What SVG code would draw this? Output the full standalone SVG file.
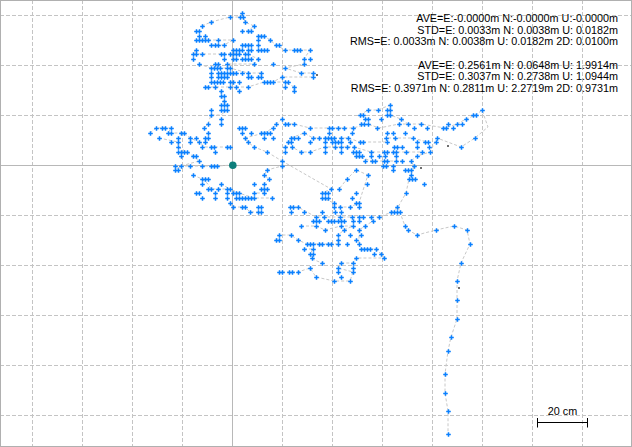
<svg xmlns="http://www.w3.org/2000/svg" width="632" height="447" viewBox="0 0 632 447">
<style>
.grid{stroke:#c4c4c4;stroke-width:1;stroke-dasharray:4 2;fill:none}
.axis{stroke:#b8b8b8;stroke-width:1;fill:none}
.tr{stroke:#c8c8c8;stroke-width:1;stroke-dasharray:3 2;fill:none}
.pt{stroke:#0a80ff;stroke-width:1.5;fill:none}
.gd{fill:#6e6e6e}
.lbl{font-family:"Liberation Sans",Arial,sans-serif;font-size:10.8px;fill:#000;text-anchor:end}
.sc{font-family:"Liberation Sans",Arial,sans-serif;font-size:10.8px;fill:#000;text-anchor:middle}
</style>
<defs>
<path id="p" class="pt" d="M-1.8 .5h4.6M.5-1.8v4.6"/>
</defs>
<rect x="0" y="0" width="632" height="447" fill="#fff"/>
<g id="grid">
<path class="grid" d="M32.5 0V447M82.5 0V447M132.5 0V447M182.5 0V447M282.5 0V447M332.5 0V447M382.5 0V447M432.5 0V447M482.5 0V447M532.5 0V447M582.5 0V447"/>
<path class="grid" d="M0 15.5H632M0 65.5H632M0 115.5H632M0 215.5H632M0 265.5H632M0 315.5H632M0 365.5H632M0 415.5H632"/>
<path class="axis" d="M232.5 0V447M0 165.5H632"/>
</g>
<rect x="0.5" y="0.5" width="631" height="446" fill="none" stroke="#b0b0b0"/>
<g id="connectors">
<polyline class="tr" points="202,26 211,22 230,17 240,17 242,13 245,22 254,26 248,31 242,31"/>
<polyline class="tr" points="258,36 264,36 270,40 276,45 285,50 294,50 300,50 310,50 304,59 304,64 285,68 301,73 313,73 313,77 282,77 273,82 285,82 294,87 294,91"/>
<polyline class="tr" points="199,36 208,40 218,40 233,40 224,45 211,45"/>
<polyline class="tr" points="196,50 193,54 202,54 221,54 230,54 248,54 258,59 254,64 227,64"/>
<polyline class="tr" points="199,64 211,68 230,68 248,73 261,73"/>
<polyline class="tr" points="206,87 215,87 230,87 236,87 248,87 264,82"/>
<polyline class="tr" points="221,91 221,96 224,101 227,105 227,110 221,115 211,115 208,124 204,128"/>
<polyline class="tr" points="150,133 156,128 171,128 168,133 184,133 190,138 199,142 205,147 214,147 227,147 230,147"/>
<polyline class="tr" points="159,138 178,142 178,147 187,152 193,156 199,161 181,166 175,170"/>
<polyline class="tr" points="175,166 202,166 217,166 233,165"/>
<polyline class="tr" points="193,175 202,179 208,184 211,189 230,189 239,193 254,198 272,198"/>
<polyline class="tr" points="221,184 230,189"/>
<polyline class="tr" points="230,203 233,207 245,207 250,212 261,212"/>
<polyline class="tr" points="282,119 276,124 273,128 264,133 245,138 248,142 254,147 267,152 282,161 282,166 267,170 264,175 269,179 264,184 264,193 254,193"/>
<polyline class="tr" points="285,124 294,124 310,128 329,128 338,128 353,128 368,124 379,128 399,124 421,124 445,128 457,124 466,119 476,115 482,110 488,127 475,138 461,147 437,138 430,152 417,156 411,161 414,166 411,175 409,179 406,193 398,207 392,212 379,217 371,217 373,221 365,226 359,230 359,244"/>
<polyline class="tr" points="360,115 368,110 378,110 390,105 390,115 401,119 408,124"/>
<polyline class="tr" points="288,142 291,138 304,133 313,138 325,138 341,138 348,138 360,142 387,142 386,138 395,138 413,138 427,142"/>
<polyline class="tr" points="285,147 292,147 301,152 310,152 325,147 341,147 354,147 371,152 384,152 393,152 406,152 422,152"/>
<polyline class="tr" points="356,156 372,161 384,161 396,161 402,161"/>
<polyline class="tr" points="282,161 331,189 322,193 322,198 334,203 340,207 350,207 359,203 365,184 368,175 356,170 347,179 339,189"/>
<polyline class="tr" points="290,207 298,207 316,217 324,217 340,217 352,217 362,217"/>
<polyline class="tr" points="301,226 316,226 325,230 341,226 353,226 344,230 338,235 338,244 322,244 307,244 298,240 291,235 279,235 276,240"/>
<polyline class="tr" points="359,244 361,249 376,249 381,254 384,258 356,258 353,263 341,263 338,268 353,272 350,281 334,281 316,277 310,268 298,272 279,272"/>
<polyline class="tr" points="304,249 313,249 310,254 312,259 322,263"/>
<polyline class="tr" points="398,207 405,226 408,230 417,235 436,230 454,226 467,230 470,244 461,263 457,281 457,300 457,319 451,337 448,351 445,374 445,393 448,411 448,434"/>
</g>
<g id="points">
<g transform="translate(0,13)"><use href="#p" x="242"/></g>
<g transform="translate(0,17)"><use href="#p" x="230"/><use href="#p" x="240"/><use href="#p" x="243"/></g>
<g transform="translate(0,22)"><use href="#p" x="211"/><use href="#p" x="245"/></g>
<g transform="translate(0,26)"><use href="#p" x="202"/><use href="#p" x="254"/></g>
<g transform="translate(0,31)"><use href="#p" x="196"/><use href="#p" x="199"/><use href="#p" x="242"/><use href="#p" x="248"/><use href="#p" x="251"/></g>
<g transform="translate(0,36)"><use href="#p" x="199"/><use href="#p" x="205"/><use href="#p" x="258"/><use href="#p" x="261"/><use href="#p" x="264"/></g>
<g transform="translate(0,40)"><use href="#p" x="196"/><use href="#p" x="199"/><use href="#p" x="202"/><use href="#p" x="205"/><use href="#p" x="208"/><use href="#p" x="218"/><use href="#p" x="233"/><use href="#p" x="258"/><use href="#p" x="270"/></g>
<g transform="translate(0,45)"><use href="#p" x="211"/><use href="#p" x="215"/><use href="#p" x="218"/><use href="#p" x="224"/><use href="#p" x="242"/><use href="#p" x="245"/><use href="#p" x="248"/><use href="#p" x="251"/><use href="#p" x="258"/><use href="#p" x="276"/><use href="#p" x="279"/></g>
<g transform="translate(0,50)"><use href="#p" x="196"/><use href="#p" x="233"/><use href="#p" x="236"/><use href="#p" x="239"/><use href="#p" x="242"/><use href="#p" x="248"/><use href="#p" x="251"/><use href="#p" x="258"/><use href="#p" x="261"/><use href="#p" x="264"/><use href="#p" x="267"/><use href="#p" x="285"/><use href="#p" x="294"/><use href="#p" x="297"/><use href="#p" x="300"/><use href="#p" x="310"/></g>
<g transform="translate(0,54)"><use href="#p" x="193"/><use href="#p" x="196"/><use href="#p" x="202"/><use href="#p" x="221"/><use href="#p" x="224"/><use href="#p" x="230"/><use href="#p" x="233"/><use href="#p" x="236"/><use href="#p" x="239"/><use href="#p" x="245"/><use href="#p" x="248"/></g>
<g transform="translate(0,59)"><use href="#p" x="193"/><use href="#p" x="224"/><use href="#p" x="233"/><use href="#p" x="236"/><use href="#p" x="242"/><use href="#p" x="245"/><use href="#p" x="248"/><use href="#p" x="251"/><use href="#p" x="258"/><use href="#p" x="304"/><use href="#p" x="310"/></g>
<g transform="translate(0,64)"><use href="#p" x="199"/><use href="#p" x="215"/><use href="#p" x="218"/><use href="#p" x="227"/><use href="#p" x="254"/><use href="#p" x="273"/><use href="#p" x="304"/></g>
<g transform="translate(0,68)"><use href="#p" x="211"/><use href="#p" x="214"/><use href="#p" x="217"/><use href="#p" x="220"/><use href="#p" x="227"/><use href="#p" x="230"/><use href="#p" x="285"/></g>
<g transform="translate(0,73)"><use href="#p" x="211"/><use href="#p" x="218"/><use href="#p" x="221"/><use href="#p" x="224"/><use href="#p" x="227"/><use href="#p" x="230"/><use href="#p" x="233"/><use href="#p" x="236"/><use href="#p" x="242"/><use href="#p" x="248"/><use href="#p" x="261"/><use href="#p" x="301"/><use href="#p" x="313"/></g>
<g transform="translate(0,77)"><use href="#p" x="211"/><use href="#p" x="218"/><use href="#p" x="221"/><use href="#p" x="224"/><use href="#p" x="227"/><use href="#p" x="248"/><use href="#p" x="251"/><use href="#p" x="258"/><use href="#p" x="261"/><use href="#p" x="282"/><use href="#p" x="313"/></g>
<g transform="translate(0,82)"><use href="#p" x="211"/><use href="#p" x="214"/><use href="#p" x="217"/><use href="#p" x="220"/><use href="#p" x="223"/><use href="#p" x="230"/><use href="#p" x="233"/><use href="#p" x="239"/><use href="#p" x="264"/><use href="#p" x="267"/><use href="#p" x="270"/><use href="#p" x="273"/><use href="#p" x="285"/><use href="#p" x="288"/></g>
<g transform="translate(0,87)"><use href="#p" x="205"/><use href="#p" x="208"/><use href="#p" x="215"/><use href="#p" x="230"/><use href="#p" x="236"/><use href="#p" x="248"/><use href="#p" x="285"/><use href="#p" x="294"/></g>
<g transform="translate(0,91)"><use href="#p" x="221"/><use href="#p" x="239"/><use href="#p" x="294"/></g>
<g transform="translate(0,96)"><use href="#p" x="221"/><use href="#p" x="224"/></g>
<g transform="translate(0,101)"><use href="#p" x="224"/></g>
<g transform="translate(0,105)"><use href="#p" x="221"/><use href="#p" x="224"/><use href="#p" x="227"/><use href="#p" x="390"/></g>
<g transform="translate(0,110)"><use href="#p" x="211"/><use href="#p" x="221"/><use href="#p" x="224"/><use href="#p" x="227"/><use href="#p" x="368"/><use href="#p" x="378"/><use href="#p" x="387"/><use href="#p" x="390"/><use href="#p" x="482"/></g>
<g transform="translate(0,115)"><use href="#p" x="211"/><use href="#p" x="360"/><use href="#p" x="363"/><use href="#p" x="387"/><use href="#p" x="390"/><use href="#p" x="473"/><use href="#p" x="476"/></g>
<g transform="translate(0,119)"><use href="#p" x="221"/><use href="#p" x="282"/><use href="#p" x="365"/><use href="#p" x="368"/><use href="#p" x="381"/><use href="#p" x="401"/><use href="#p" x="466"/></g>
<g transform="translate(0,124)"><use href="#p" x="208"/><use href="#p" x="221"/><use href="#p" x="276"/><use href="#p" x="285"/><use href="#p" x="288"/><use href="#p" x="294"/><use href="#p" x="361"/><use href="#p" x="364"/><use href="#p" x="368"/><use href="#p" x="399"/><use href="#p" x="408"/><use href="#p" x="421"/><use href="#p" x="448"/><use href="#p" x="457"/><use href="#p" x="462"/></g>
<g transform="translate(0,128)"><use href="#p" x="156"/><use href="#p" x="162"/><use href="#p" x="165"/><use href="#p" x="171"/><use href="#p" x="204"/><use href="#p" x="239"/><use href="#p" x="242"/><use href="#p" x="245"/><use href="#p" x="273"/><use href="#p" x="310"/><use href="#p" x="329"/><use href="#p" x="332"/><use href="#p" x="338"/><use href="#p" x="344"/><use href="#p" x="353"/><use href="#p" x="377"/><use href="#p" x="414"/><use href="#p" x="427"/><use href="#p" x="443"/><use href="#p" x="446"/><use href="#p" x="453"/></g>
<g transform="translate(0,133)"><use href="#p" x="150"/><use href="#p" x="168"/><use href="#p" x="171"/><use href="#p" x="181"/><use href="#p" x="184"/><use href="#p" x="208"/><use href="#p" x="242"/><use href="#p" x="251"/><use href="#p" x="261"/><use href="#p" x="264"/><use href="#p" x="267"/><use href="#p" x="270"/><use href="#p" x="304"/><use href="#p" x="329"/><use href="#p" x="352"/><use href="#p" x="387"/><use href="#p" x="393"/><use href="#p" x="405"/></g>
<g transform="translate(0,138)"><use href="#p" x="159"/><use href="#p" x="178"/><use href="#p" x="190"/><use href="#p" x="196"/><use href="#p" x="205"/><use href="#p" x="208"/><use href="#p" x="245"/><use href="#p" x="264"/><use href="#p" x="273"/><use href="#p" x="291"/><use href="#p" x="294"/><use href="#p" x="298"/><use href="#p" x="313"/><use href="#p" x="319"/><use href="#p" x="325"/><use href="#p" x="328"/><use href="#p" x="331"/><use href="#p" x="334"/><use href="#p" x="341"/><use href="#p" x="348"/><use href="#p" x="386"/><use href="#p" x="395"/><use href="#p" x="413"/><use href="#p" x="437"/><use href="#p" x="475"/></g>
<g transform="translate(0,142)"><use href="#p" x="171"/><use href="#p" x="178"/><use href="#p" x="190"/><use href="#p" x="199"/><use href="#p" x="205"/><use href="#p" x="248"/><use href="#p" x="288"/><use href="#p" x="291"/><use href="#p" x="310"/><use href="#p" x="325"/><use href="#p" x="332"/><use href="#p" x="335"/><use href="#p" x="338"/><use href="#p" x="341"/><use href="#p" x="350"/><use href="#p" x="360"/><use href="#p" x="363"/><use href="#p" x="387"/><use href="#p" x="417"/><use href="#p" x="425"/><use href="#p" x="428"/><use href="#p" x="436"/></g>
<g transform="translate(0,147)"><use href="#p" x="178"/><use href="#p" x="202"/><use href="#p" x="211"/><use href="#p" x="214"/><use href="#p" x="227"/><use href="#p" x="230"/><use href="#p" x="254"/><use href="#p" x="285"/><use href="#p" x="292"/><use href="#p" x="325"/><use href="#p" x="335"/><use href="#p" x="341"/><use href="#p" x="347"/><use href="#p" x="354"/><use href="#p" x="394"/><use href="#p" x="397"/><use href="#p" x="402"/><use href="#p" x="417"/><use href="#p" x="429"/><use href="#p" x="461"/></g>
<g transform="translate(0,152)"><use href="#p" x="178"/><use href="#p" x="181"/><use href="#p" x="184"/><use href="#p" x="187"/><use href="#p" x="215"/><use href="#p" x="267"/><use href="#p" x="285"/><use href="#p" x="301"/><use href="#p" x="310"/><use href="#p" x="325"/><use href="#p" x="341"/><use href="#p" x="353"/><use href="#p" x="356"/><use href="#p" x="359"/><use href="#p" x="371"/><use href="#p" x="384"/><use href="#p" x="387"/><use href="#p" x="393"/><use href="#p" x="396"/><use href="#p" x="406"/><use href="#p" x="422"/><use href="#p" x="430"/></g>
<g transform="translate(0,156)"><use href="#p" x="181"/><use href="#p" x="193"/><use href="#p" x="196"/><use href="#p" x="356"/><use href="#p" x="359"/><use href="#p" x="362"/><use href="#p" x="371"/><use href="#p" x="379"/><use href="#p" x="385"/><use href="#p" x="396"/><use href="#p" x="417"/></g>
<g transform="translate(0,161)"><use href="#p" x="199"/><use href="#p" x="282"/><use href="#p" x="365"/><use href="#p" x="372"/><use href="#p" x="375"/><use href="#p" x="384"/><use href="#p" x="387"/><use href="#p" x="396"/><use href="#p" x="402"/><use href="#p" x="411"/></g>
<g transform="translate(0,166)"><use href="#p" x="175"/><use href="#p" x="181"/><use href="#p" x="190"/><use href="#p" x="202"/><use href="#p" x="211"/><use href="#p" x="214"/><use href="#p" x="217"/><use href="#p" x="282"/><use href="#p" x="383"/><use href="#p" x="386"/><use href="#p" x="393"/><use href="#p" x="414"/></g>
<g transform="translate(0,170)"><use href="#p" x="175"/><use href="#p" x="178"/><use href="#p" x="267"/><use href="#p" x="356"/><use href="#p" x="393"/><use href="#p" x="405"/><use href="#p" x="408"/><use href="#p" x="411"/></g>
<g transform="translate(0,175)"><use href="#p" x="193"/><use href="#p" x="264"/><use href="#p" x="368"/><use href="#p" x="411"/></g>
<g transform="translate(0,179)"><use href="#p" x="202"/><use href="#p" x="205"/><use href="#p" x="208"/><use href="#p" x="269"/><use href="#p" x="347"/><use href="#p" x="409"/><use href="#p" x="412"/><use href="#p" x="415"/></g>
<g transform="translate(0,184)"><use href="#p" x="202"/><use href="#p" x="221"/><use href="#p" x="254"/><use href="#p" x="264"/><use href="#p" x="367"/><use href="#p" x="424"/></g>
<g transform="translate(0,189)"><use href="#p" x="208"/><use href="#p" x="211"/><use href="#p" x="218"/><use href="#p" x="227"/><use href="#p" x="230"/><use href="#p" x="261"/><use href="#p" x="264"/><use href="#p" x="267"/><use href="#p" x="331"/><use href="#p" x="339"/></g>
<g transform="translate(0,193)"><use href="#p" x="196"/><use href="#p" x="199"/><use href="#p" x="215"/><use href="#p" x="227"/><use href="#p" x="233"/><use href="#p" x="236"/><use href="#p" x="239"/><use href="#p" x="254"/><use href="#p" x="264"/><use href="#p" x="322"/><use href="#p" x="325"/><use href="#p" x="328"/><use href="#p" x="356"/><use href="#p" x="406"/></g>
<g transform="translate(0,198)"><use href="#p" x="202"/><use href="#p" x="215"/><use href="#p" x="227"/><use href="#p" x="236"/><use href="#p" x="239"/><use href="#p" x="242"/><use href="#p" x="245"/><use href="#p" x="248"/><use href="#p" x="251"/><use href="#p" x="254"/><use href="#p" x="272"/><use href="#p" x="322"/><use href="#p" x="325"/><use href="#p" x="328"/><use href="#p" x="352"/></g>
<g transform="translate(0,203)"><use href="#p" x="230"/><use href="#p" x="334"/><use href="#p" x="356"/><use href="#p" x="359"/></g>
<g transform="translate(0,207)"><use href="#p" x="233"/><use href="#p" x="242"/><use href="#p" x="245"/><use href="#p" x="258"/><use href="#p" x="261"/><use href="#p" x="290"/><use href="#p" x="293"/><use href="#p" x="298"/><use href="#p" x="334"/><use href="#p" x="340"/><use href="#p" x="350"/><use href="#p" x="359"/><use href="#p" x="397"/></g>
<g transform="translate(0,212)"><use href="#p" x="250"/><use href="#p" x="258"/><use href="#p" x="261"/><use href="#p" x="291"/><use href="#p" x="304"/><use href="#p" x="322"/><use href="#p" x="335"/><use href="#p" x="341"/><use href="#p" x="391"/><use href="#p" x="394"/><use href="#p" x="397"/><use href="#p" x="400"/></g>
<g transform="translate(0,217)"><use href="#p" x="316"/><use href="#p" x="324"/><use href="#p" x="340"/><use href="#p" x="352"/><use href="#p" x="359"/><use href="#p" x="363"/><use href="#p" x="371"/><use href="#p" x="379"/></g>
<g transform="translate(0,221)"><use href="#p" x="313"/><use href="#p" x="316"/><use href="#p" x="319"/><use href="#p" x="328"/><use href="#p" x="331"/><use href="#p" x="334"/><use href="#p" x="338"/><use href="#p" x="341"/><use href="#p" x="344"/><use href="#p" x="353"/><use href="#p" x="359"/><use href="#p" x="373"/></g>
<g transform="translate(0,226)"><use href="#p" x="301"/><use href="#p" x="316"/><use href="#p" x="341"/><use href="#p" x="353"/><use href="#p" x="365"/><use href="#p" x="405"/><use href="#p" x="454"/></g>
<g transform="translate(0,230)"><use href="#p" x="325"/><use href="#p" x="344"/><use href="#p" x="359"/><use href="#p" x="408"/><use href="#p" x="436"/><use href="#p" x="467"/></g>
<g transform="translate(0,235)"><use href="#p" x="279"/><use href="#p" x="291"/><use href="#p" x="338"/><use href="#p" x="350"/><use href="#p" x="361"/><use href="#p" x="417"/></g>
<g transform="translate(0,240)"><use href="#p" x="276"/><use href="#p" x="279"/><use href="#p" x="298"/><use href="#p" x="338"/><use href="#p" x="356"/></g>
<g transform="translate(0,244)"><use href="#p" x="307"/><use href="#p" x="310"/><use href="#p" x="313"/><use href="#p" x="319"/><use href="#p" x="322"/><use href="#p" x="328"/><use href="#p" x="331"/><use href="#p" x="338"/><use href="#p" x="347"/><use href="#p" x="359"/><use href="#p" x="470"/></g>
<g transform="translate(0,249)"><use href="#p" x="304"/><use href="#p" x="313"/><use href="#p" x="361"/><use href="#p" x="364"/><use href="#p" x="367"/><use href="#p" x="370"/><use href="#p" x="376"/></g>
<g transform="translate(0,254)"><use href="#p" x="310"/><use href="#p" x="313"/><use href="#p" x="374"/><use href="#p" x="381"/></g>
<g transform="translate(0,258)"><use href="#p" x="312"/><use href="#p" x="356"/><use href="#p" x="384"/></g>
<g transform="translate(0,263)"><use href="#p" x="322"/><use href="#p" x="341"/><use href="#p" x="353"/><use href="#p" x="461"/></g>
<g transform="translate(0,268)"><use href="#p" x="310"/><use href="#p" x="338"/><use href="#p" x="353"/></g>
<g transform="translate(0,272)"><use href="#p" x="279"/><use href="#p" x="282"/><use href="#p" x="289"/><use href="#p" x="292"/><use href="#p" x="298"/><use href="#p" x="338"/><use href="#p" x="353"/></g>
<g transform="translate(0,277)"><use href="#p" x="316"/><use href="#p" x="341"/></g>
<g transform="translate(0,281)"><use href="#p" x="334"/><use href="#p" x="350"/><use href="#p" x="457"/></g>
<use href="#p" x="457" y="300"/><use href="#p" x="457" y="319"/><use href="#p" x="451" y="337"/><use href="#p" x="448" y="351"/><use href="#p" x="445" y="374"/><use href="#p" x="445" y="393"/><use href="#p" x="448" y="411"/><use href="#p" x="448" y="434"/>
</g>
<g id="gray-points">
<rect class="gd" x="316" y="74" width="2" height="2"/>
<rect class="gd" x="447" y="145" width="2" height="2"/>
<rect class="gd" x="458" y="287" width="2" height="2"/>
<rect class="gd" x="420" y="167" width="2" height="2"/>
</g>
<g id="start-point"><circle cx="232.8" cy="165.2" r="3.8" fill="#0e7f7c"/></g>
<g id="stats">
<text class="lbl" x="618" y="22">AVE=E:-0.0000m N:-0.0000m U:-0.0000m</text>
<text class="lbl" x="618" y="33.5">STD=E: 0.0033m N: 0.0038m U: 0.0182m</text>
<text class="lbl" x="618" y="45">RMS=E: 0.0033m N: 0.0038m U: 0.0182m 2D: 0.0100m</text>
<text class="lbl" x="618" y="68.5">AVE=E: 0.2561m N: 0.0648m U: 1.9914m</text>
<text class="lbl" x="618" y="80">STD=E: 0.3037m N: 0.2738m U: 1.0944m</text>
<text class="lbl" x="618" y="91.5">RMS=E: 0.3971m N: 0.2811m U: 2.2719m 2D: 0.9731m</text>
</g>
<g id="scale-bar">
<text class="sc" x="562.5" y="415">20 cm</text>
<path d="M537.5 422.5H587.5M537.5 418V427.5M587.5 418V427.5" stroke="#000" stroke-width="1" fill="none"/>
</g>
</svg>
